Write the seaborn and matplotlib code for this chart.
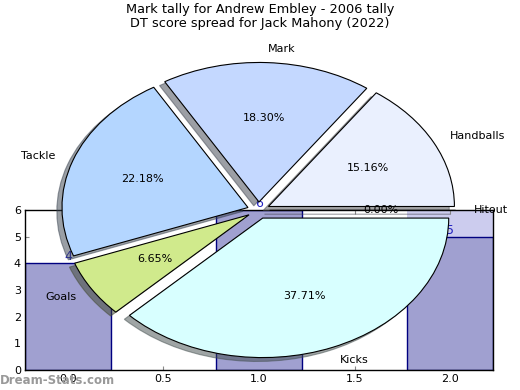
import matplotlib
matplotlib.use("Agg")
import matplotlib.pyplot as plt
import seaborn as sns
import pandas as pd

# ---- data ----
bar_categories = ["0", "1", "2"]
bar_values = [4, 6, 5]
bar_extra = [0, 0, 1]          # lighter top segment on the last bar
pie_labels = ["Handballs", "Mark", "Tackle", "Goals", "Kicks", "Hitout"]
pie_values = [15.16, 18.30, 22.18, 6.65, 37.71, 0.0]
pie_colors = ["#eaf0fe", "#c4d8ff", "#b4d6ff", "#d0ea8c", "#d8ffff", "#ccccee"]
xtick_vals = [0.0, 0.5, 1.0, 1.5, 2.0]
ytick_vals = [0, 1, 2, 3, 4, 5, 6]
title_lines = ["Mark tally for Andrew Embley - 2006 tally",
               "DT score spread for Jack Mahony (2022)"]

sns.set_style("white")
plt.rcParams["font.family"] = ["DejaVu Sans"]
plt.rcParams["text.color"] = "black"
plt.rcParams["xtick.labelcolor"] = "black"
plt.rcParams["ytick.labelcolor"] = "black"

fig = plt.figure(figsize=(5.2, 3.9), dpi=100)

# ---- bar axes ----
ax = fig.add_axes([25 / 520, 20 / 390, 468 / 520, 160 / 390])
df = pd.DataFrame({"cat": bar_categories, "val": bar_values})
sns.barplot(data=df, x="cat", y="val", ax=ax, width=0.45, color="#a0a0d0",
            saturation=1, edgecolor="navy", linewidth=1)
ax.bar(range(len(bar_categories)), bar_extra, bottom=bar_values, width=0.45,
       color="#ccccee", linewidth=0, zorder=0.5)
for i, v in enumerate(bar_values):
    ax.text(i, v, str(v), ha="center", va="bottom", color="#2020c0", fontsize=9)
ax.set_xlim(-0.225, 2.225)
ax.set_ylim(0, 6)
ax.set_xticks(xtick_vals)
ax.set_xticklabels([f"{t:.1f}" for t in xtick_vals], fontsize=8, color="black")
ax.set_yticks(ytick_vals)
ax.set_yticklabels([str(t) for t in ytick_vals], fontsize=8, color="black")
ax.set_xlabel("")
ax.set_ylabel("")
ax.tick_params(direction="in", length=3, color="#888888", top=True, right=True,
               bottom=True, left=True, pad=3)
for s in ax.spines.values():
    s.set_color("black")
    s.set_linewidth(1)
    s.set_visible(True)

# ---- pie axes (overlay) ----
pax = fig.add_axes([26 / 520, 5.3 / 390, 465 / 520, 348.75 / 390])
pax.patch.set_visible(False)
wedges, texts, autotexts = pax.pie(
    pie_values, labels=pie_labels, colors=pie_colors, explode=[0.06] * len(pie_values),
    autopct="%.2f%%", pctdistance=0.6, labeldistance=1.1, shadow=True, startangle=0,
    wedgeprops=dict(edgecolor="black", linewidth=0.8),
    textprops=dict(fontsize=8, color="black"))
pax.set_aspect("auto")
pax.set_xlim(-1.25, 1.25)
pax.set_ylim(-1.25, 1.25)
pax.axis("off")

# ---- titles / watermark ----
fig.text(0.5, 1 - 3 / 390, "\n".join(title_lines), ha="center", va="top",
         fontsize=9.3, linespacing=1.1, color="black")
fig.text(0.0, 10 / 390, "Dream-Stats.com", ha="left", va="center",
         fontsize=8.5, color="#999999", fontweight="bold")

fig.savefig("out.png", dpi=100)
